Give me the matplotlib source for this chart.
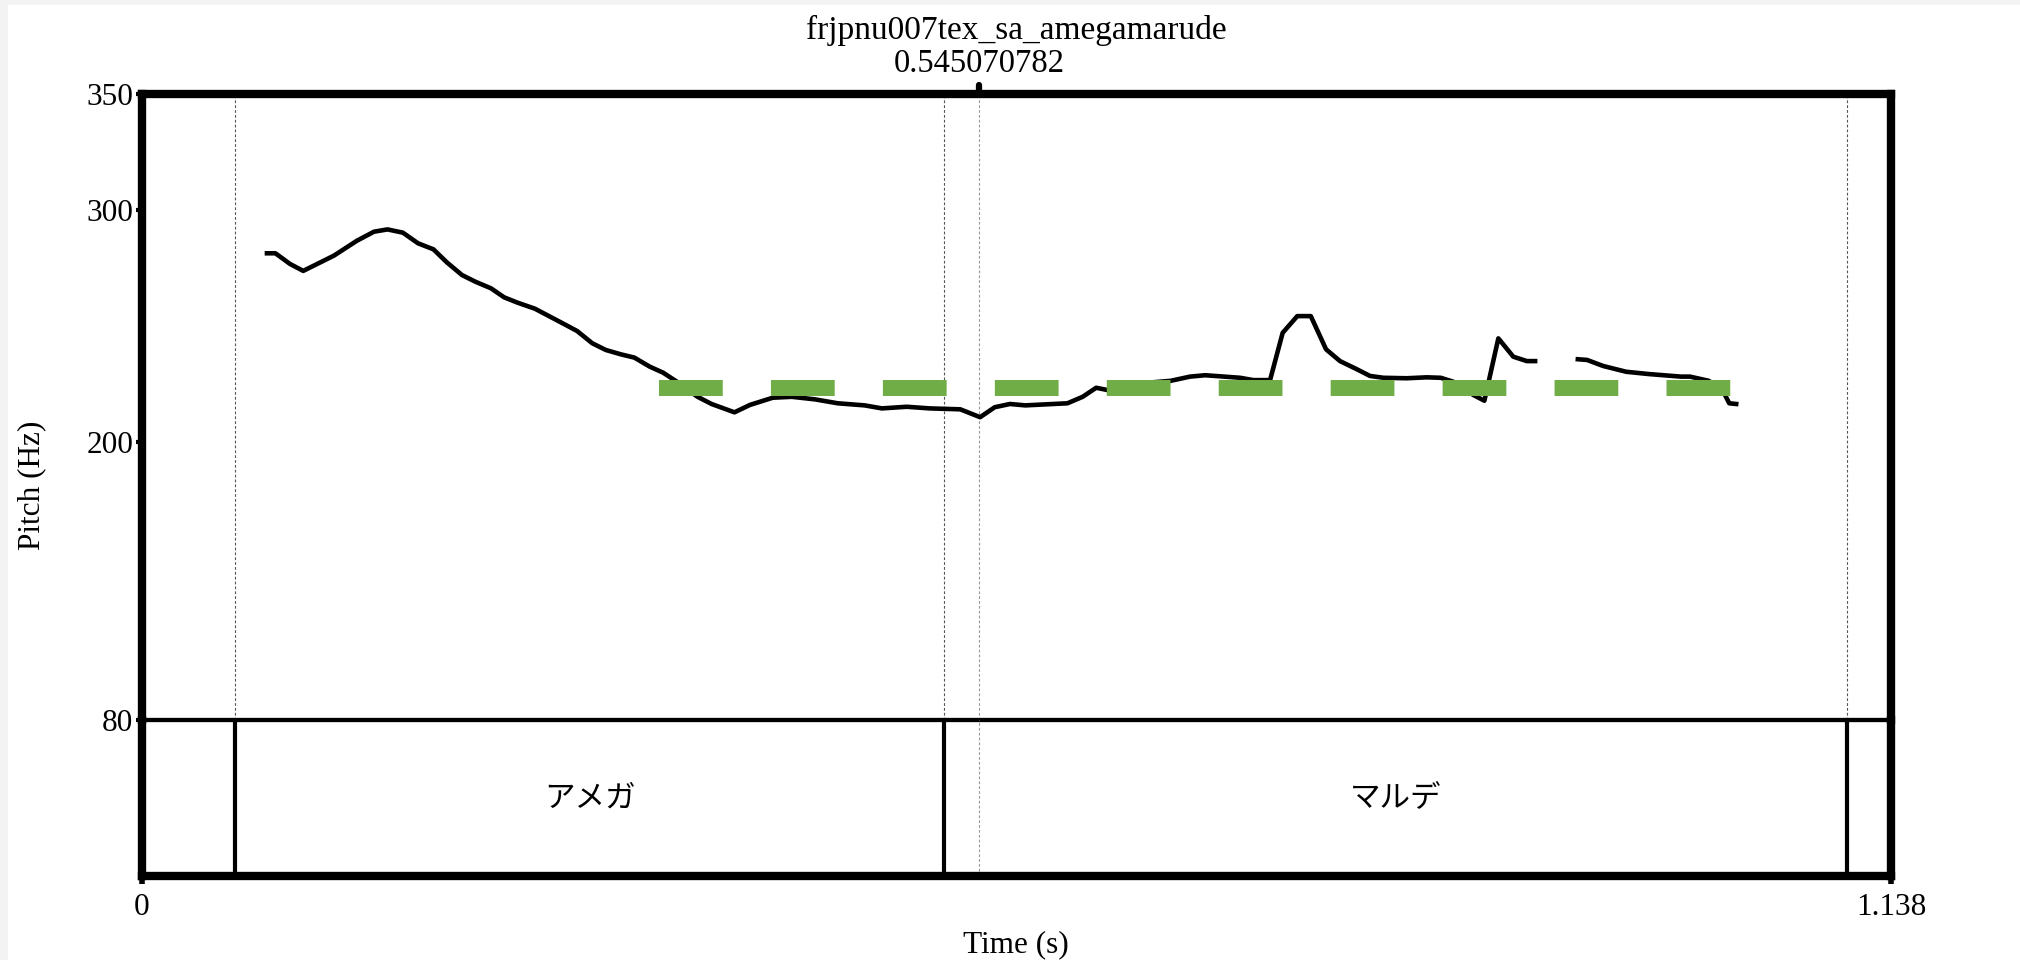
import matplotlib
matplotlib.use("Agg")
import matplotlib.pyplot as plt
import matplotlib.transforms as mtransforms
from matplotlib.patches import Rectangle

plt.rcParams['font.family'] = ['Liberation Serif', 'DejaVu Serif']
plt.rcParams['lines.scale_dashes'] = False

file_name = "frjpnu007tex_sa_amegamarude"
cursor_time = 0.545070782
t_min, t_max = 0.0, 1.138
f_min, f_max = 80, 350
f_ticks = [80, 200, 300, 350]

# pitch track, first voiced stretch (s, Hz)
seg1_t = [0.0816, 0.0871, 0.0966, 0.1052, 0.1152, 0.1252, 0.1401, 0.1512, 0.1600, 0.1700,
          0.1799, 0.1899, 0.1986, 0.2085, 0.2173, 0.2273, 0.2359, 0.2446, 0.2559, 0.2708,
          0.2833, 0.2932, 0.3020, 0.3119, 0.3206, 0.3306, 0.3393, 0.3492, 0.3617, 0.3708,
          0.3857, 0.3958, 0.4106, 0.4230, 0.4380, 0.4529, 0.4704, 0.4816, 0.4978, 0.5126,
          0.5326, 0.5455, 0.5550, 0.5649, 0.5749, 0.6023, 0.6122, 0.6210, 0.6284, 0.6496,
          0.6695, 0.6820, 0.6919, 0.7044, 0.7146, 0.7232, 0.7341, 0.7423, 0.7518, 0.7606,
          0.7705, 0.7796, 0.7905, 0.7991, 0.8078, 0.8230, 0.8360, 0.8451, 0.8533, 0.8663,
          0.8735, 0.8826, 0.8923, 0.9011, 0.9065]
seg1_f = [281.3, 281.3, 276.7, 273.7, 277.0, 280.3, 286.7, 290.6, 291.6, 290.2,
          285.6, 283.0, 277.4, 271.9, 269.0, 266.2, 262.3, 260.0, 257.4, 252.2,
          247.8, 242.5, 239.6, 237.7, 236.3, 232.4, 229.8, 225.5, 219.4, 216.3,
          212.7, 215.9, 219.0, 219.4, 218.3, 216.6, 215.7, 214.4, 215.1, 214.4,
          214.0, 210.6, 214.9, 216.3, 215.7, 216.6, 219.4, 223.3, 222.3, 225.2,
          226.3, 228.1, 228.7, 228.1, 227.6, 226.6, 226.6, 247.0, 254.2, 254.2,
          239.9, 234.8, 231.3, 228.4, 227.6, 227.4, 227.8, 227.6, 225.9, 220.2,
          217.7, 244.6, 236.7, 234.8, 234.8]

# second voiced stretch
seg2_t = [0.9343, 0.9403, 0.9507, 0.9657, 0.9806, 1.0014, 1.0073, 1.0194, 1.0284, 1.0328, 1.0373]
seg2_f = [235.6, 235.3, 232.7, 230.2, 229.2, 228.1, 228.1, 226.3, 222.3, 216.6, 216.3]

# reference level line
ref_start, ref_end = 0.3368, 1.0340
ref_hz = 223

# word tier
boundaries = [0.0608, 0.522, 1.1093]
words = ["アメガ", "マルデ"]

W, H = 2020, 960
fig = plt.figure(figsize=(W / 100, H / 100), dpi=100)
fig.patch.set_facecolor('#f3f3f3')
fig.patches.append(Rectangle((8 / W, 0), 1, 1 - 5 / H, transform=fig.transFigure,
                             facecolor='white', edgecolor='none', zorder=-1))

left, right = 141.5 / W, 1891 / W
y_top, y_80, y_bot = 94, 720, 876
ax = fig.add_axes([left, 1 - y_80 / H, right - left, (y_80 - y_top) / H])
tier = fig.add_axes([left, 1 - y_bot / H, right - left, (y_bot - y_80) / H])
ax.set_facecolor('none')
tier.set_facecolor('none')

frame_lw = 6
ax.set_xlim(t_min, t_max)
ax.set_ylim(f_min, f_max)
ax.set_xticks([])
ax.set_yticks(f_ticks)
ax.set_yticklabels([str(v) for v in f_ticks])
ax.tick_params(axis='y', length=4, width=3, pad=2, labelsize=22.5, direction='out')
for s in ['top', 'left', 'right']:
    ax.spines[s].set_linewidth(frame_lw)
ax.spines['bottom'].set_linewidth(3.1)

tier.set_xlim(t_min, t_max)
tier.set_ylim(0, 1)
tier.set_yticks([])
tier.set_xticks([t_min, t_max])
tier.set_xticklabels(['0', '1.138'])
tier.tick_params(axis='x', length=6, width=4, pad=6, labelsize=22.5, direction='out')
tier.spines['top'].set_visible(False)
for s in ['bottom', 'left', 'right']:
    tier.spines[s].set_linewidth(frame_lw)

# interval boundaries
for b in boundaries:
    ax.axvline(b, color='#555555', lw=0.8, ls=(0, (2, 1.5)), zorder=1)
    tier.axvline(b, color='black', lw=3.0, zorder=2)

# cursor
ax.axvline(cursor_time, color='#999999', lw=0.8, ls=(0, (2, 1.5)), zorder=1)
tier.axvline(cursor_time, color='#999999', lw=0.8, ls=(0, (2, 1.5)), zorder=1)
trans = mtransforms.blended_transform_factory(ax.transData, ax.transAxes)
ax.plot([cursor_time, cursor_time], [1.0, 1.014], transform=trans, color='black',
        lw=4.5, solid_capstyle='round', clip_on=False, zorder=5)

# pitch contour
ax.plot(seg1_t, seg1_f, color='black', lw=3.3, solid_joinstyle='round', zorder=3)
ax.plot(seg2_t, seg2_f, color='black', lw=3.3, solid_joinstyle='round', zorder=3)

# reference level
ax.plot([ref_start, ref_end], [ref_hz, ref_hz], color='#70AD47', lw=11.5,
        ls=(0, (45.9, 34.7)), dash_capstyle='butt', zorder=4)

# word labels
for i, w in enumerate(words):
    mid = (boundaries[i] + boundaries[i + 1]) / 2
    tier.text(mid, 0.5, w, ha='center', va='center', fontsize=22,
              family=['Noto Sans CJK JP', 'DejaVu Sans'])

# titles
ax.text(0.5, 1.102, file_name, transform=ax.transAxes, ha='center', va='center', fontsize=24)
ax.text(cursor_time, 1.0487, f"{cursor_time:.9f}", transform=trans, ha='center',
        va='center', fontsize=23.5)

fig.text((141.5 + 1891) / 2 / W, 1 - 945 / H, "Time (s)", ha='center', va='center', fontsize=22.5)
fig.text(31.5 / W, 1 - 485 / H, "Pitch (Hz)", ha='center', va='center', rotation=90, fontsize=22.5)

fig.savefig("out.png", dpi=100)
